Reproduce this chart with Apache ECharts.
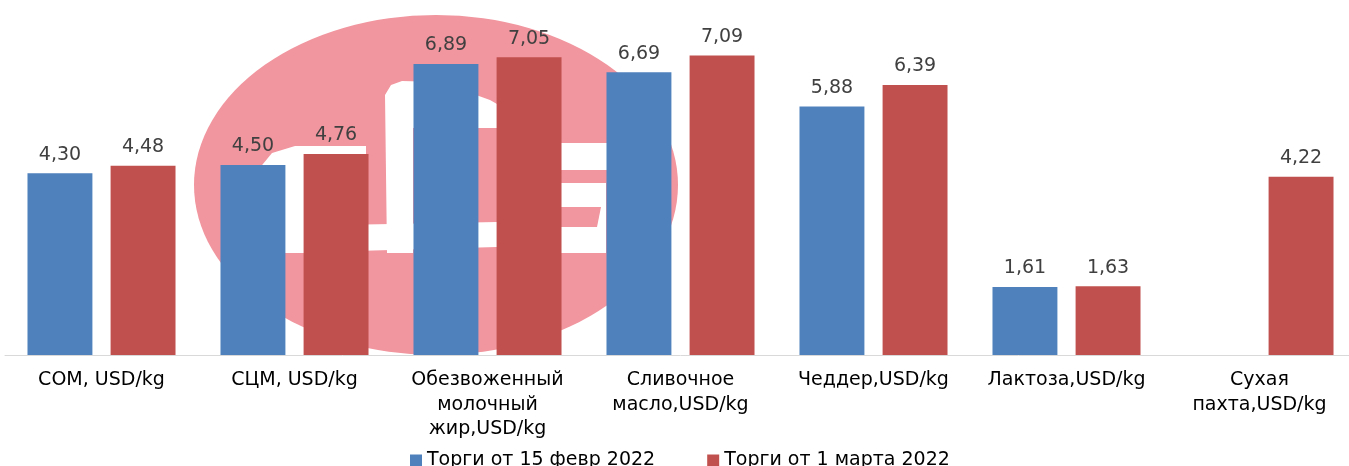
<!DOCTYPE html>
<html>
<head>
<meta charset="utf-8">
<script src="https://cdn.jsdelivr.net/npm/echarts@6/dist/echarts.min.js"></script>
<style>html,body{margin:0;padding:0;background:#fff;overflow:hidden;width:1349px;height:466px}#c{width:1358px;height:466px}</style>
</head>
<body>
<div id="c"></div>
<script>
const categories = [
  'СОМ, USD/kg',
  'СЦМ, USD/kg',
  'Обезвоженный\nмолочный\nжир,USD/kg',
  'Сливочное\nмасло,USD/kg',
  'Чеддер,USD/kg',
  'Лактоза,USD/kg',
  'Сухая\nпахта,USD/kg'
];
const seriesNames = ['Торги от 15 февр 2022', 'Торги от 1 марта 2022'];
const feb15 = [4.30, 4.50, 6.89, 6.69, 5.88, 1.61, null];
const mar1 = [4.48, 4.76, 7.05, 7.09, 6.39, 1.63, 4.22];

const PINK = '#f1959e';
const FONT = '"DejaVu Sans", sans-serif';

const chart = echarts.init(document.getElementById('c'), null, {renderer: 'canvas'});
const fmt = p => (p.value == null ? '' : p.value.toFixed(2).replace('.', ','));

chart.setOption({
  animation: false,
  backgroundColor: '#fff',
  textStyle: {fontFamily: FONT},
  graphic: {
    elements: [
      {type: 'circle', x: 436, y: 185, scaleX: 1.4235, scaleY: 1, shape: {cx: 0, cy: 0, r: 170}, style: {fill: PINK}, z: 0},
      {type: 'polygon', shape: {points: [[258,170],[272,153],[295,146],[366,146],[366,253],[270,253],[255,238]]}, style: {fill: '#fff'}, z: 1},
      {type: 'polygon', shape: {points: [[310,156],[387,156],[387,226],[306,226]]}, style: {fill: PINK}, z: 1},
      {type: 'polygon', shape: {points: [[385,95],[391,85],[402,81],[440,82],[490,100],[497,104],[497,128],[413,128],[413,253],[387,253]]}, style: {fill: '#fff'}, z: 1},
      {type: 'polygon', shape: {points: [[285,226],[497,222],[497,247],[285,253]]}, style: {fill: '#fff'}, z: 1},
      {type: 'rect', shape: {x: 535, y: 143, width: 110, height: 27}, style: {fill: '#fff'}, z: 1},
      {type: 'rect', shape: {x: 535, y: 183, width: 71, height: 70}, style: {fill: '#fff'}, z: 1},
      {type: 'polygon', shape: {points: [[561,207],[601,207],[597,227],[561,227]]}, style: {fill: PINK}, z: 1}
    ]
  },
  legend: {
    data: seriesNames,
    left: 405,
    top: 446,
    icon: 'rect',
    itemWidth: 12,
    itemHeight: 12,
    itemGap: 52,
    textStyle: {fontFamily: FONT, fontSize: 19, color: '#000'}
  },
  grid: {left: 5, top: 17, right: 2, bottom: 111, containLabel: false},
  xAxis: {
    type: 'category',
    data: categories,
    axisLine: {lineStyle: {color: '#d9d9d9', width: 1}},
    axisTick: {show: false},
    axisLabel: {interval: 0, margin: 13, fontFamily: FONT, fontSize: 19, lineHeight: 24.5, color: '#000', align: 'center'}
  },
  yAxis: {
    type: 'value',
    min: 0,
    max: 8,
    interval: 1,
    show: false,
    splitLine: {show: false}
  },
  series: [
    {
      name: seriesNames[0], type: 'bar', data: feb15,
      barCategoryGap: '23.3%', barGap: '28%',
      itemStyle: {color: '#4f81bd'}, z: 2,
      label: {show: true, position: 'top', distance: 9, formatter: fmt, fontFamily: FONT, fontSize: 19, color: '#404040'}
    },
    {
      name: seriesNames[1], type: 'bar', data: mar1,
      barCategoryGap: '23.3%', barGap: '28%',
      itemStyle: {color: '#c0504d'}, z: 2,
      label: {show: true, position: 'top', distance: 9, formatter: fmt, fontFamily: FONT, fontSize: 19, color: '#404040'}
    }
  ]
});
</script>
</body>
</html>
